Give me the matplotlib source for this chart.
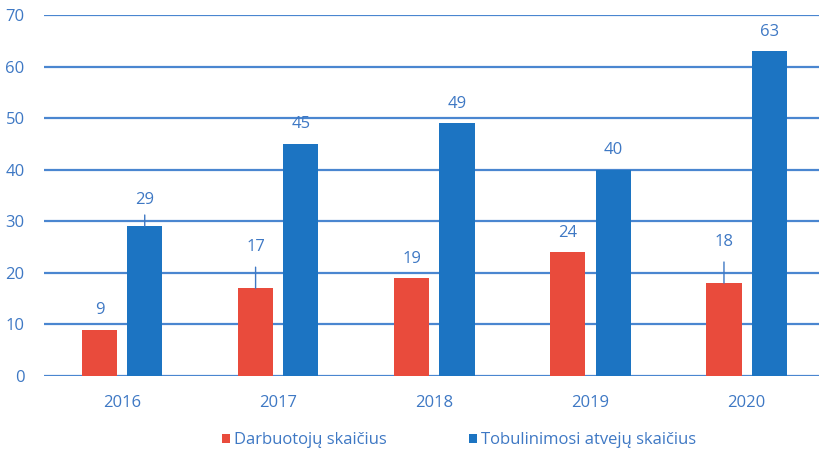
import matplotlib
matplotlib.use("Agg")
import matplotlib.pyplot as plt
import numpy as np

years = ["2016", "2017", "2018", "2019", "2020"]
darbuotoju = [9, 17, 19, 24, 18]
tobulinimo = [29, 45, 49, 40, 63]
# labels that sit higher with a leader line (series, index)
lifted = {("d", 1), ("d", 4), ("t", 0)}

red = "#E94B3C"
blue = "#1C74C2"
txt = "#3E78C4"
grid = "#4A86D0"

plt.rcParams["font.family"] = ["Open Sans", "DejaVu Sans"]

fig = plt.figure(figsize=(8.2, 4.51), dpi=100)
ax = fig.add_axes([0.0537, 0.1663, 0.952, 0.8004])

x = np.arange(len(years))
w = 0.225
off = 0.145
b1 = ax.bar(x - off, darbuotoju, w, color=red, label="Darbuotojų skaičius", zorder=3)
b2 = ax.bar(x + off, tobulinimo, w, color=blue, label="Tobulinimosi atvejų skaičius", zorder=3)

ax.set_ylim(0, 70)
ax.set_xlim(-0.5, len(years) - 0.5)
ax.set_yticks(range(0, 71, 10))
ax.set_xticks(x)
ax.set_xticklabels(years)
ax.yaxis.grid(True, color=grid, linewidth=1.6, zorder=0)
ax.set_axisbelow(True)
for s in ax.spines.values():
    s.set_visible(False)
ax.tick_params(length=0, colors=txt, labelsize=12)
ax.tick_params(axis="y", pad=14)
ax.tick_params(axis="x", pad=14)

def label(bars, vals, key):
    for i, (b, v) in enumerate(zip(bars, vals)):
        cx = b.get_x() + b.get_width() / 2
        if (key, i) in lifted:
            dy = 30 if key == "d" else 19
            sh = 7 if key == "d" else 3
            ax.annotate(str(v), (cx, v), xytext=(0, dy), textcoords="offset points",
                        ha="center", va="center", color=txt, fontsize=12,
                        arrowprops=dict(arrowstyle="-", color=txt, lw=1,
                                        shrinkA=sh, shrinkB=0))
        else:
            ax.annotate(str(v), (cx, v), xytext=(0, 14), textcoords="offset points",
                        ha="center", va="center", color=txt, fontsize=12)

label(b1, darbuotoju, "d")
label(b2, tobulinimo, "t")

leg = fig.legend(loc="center", bbox_to_anchor=(0.56, 0.024), ncol=2, frameon=False,
                 fontsize=12, handlelength=0.5, handleheight=0.5, handletextpad=0.25,
                 columnspacing=4.9)
for t in leg.get_texts():
    t.set_color(txt)

fig.savefig("out.png", dpi=100)
